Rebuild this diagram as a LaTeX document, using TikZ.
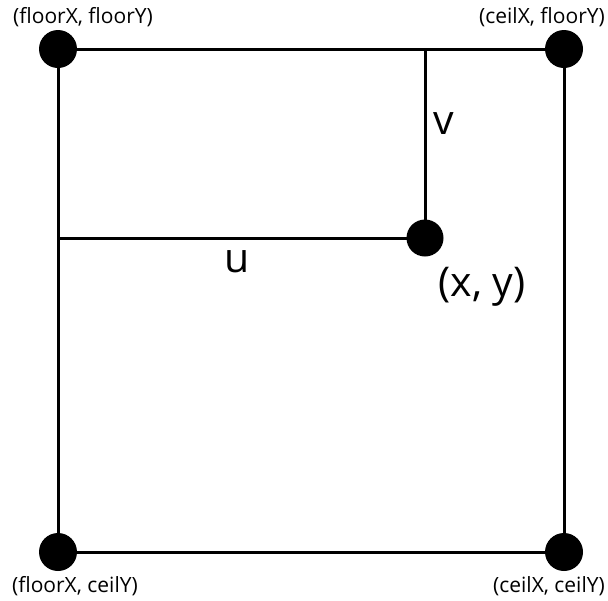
\documentclass[tikz,border=0pt]{standalone}
\usepackage{fontspec}
\setmainfont{Open Sans}
\begin{document}
\begin{tikzpicture}[x=1pt,y=-1pt,
  dot/.style={circle,fill=black,inner sep=0pt,minimum size=38pt},
  edge/.style={line width=3pt},
  small/.style={font=\fontsize{21}{24}\selectfont,inner sep=0pt},
  big/.style={font=\fontsize{41}{46}\selectfont,inner sep=0pt}]
\useasboundingbox (0,0) rectangle (608,600);
\coordinate (tl) at (58,49);
\coordinate (tr) at (564,49);
\coordinate (bl) at (58,552);
\coordinate (br) at (564,552);
\coordinate (p) at (425,238);
\coordinate (vt) at (425,49);
\coordinate (ul) at (58,238);
\draw[edge] (tl) -- (tr) -- (br) -- (bl) -- cycle;
\draw[edge] (vt) -- (p);
\draw[edge] (ul) -- (p);
\node[dot] (ntl) at (tl) {};
\node[dot] (ntr) at (tr) {};
\node[dot] (nbl) at (bl) {};
\node[dot] (nbr) at (br) {};
\node[dot,minimum size=37pt] (np) at (p) {};
\node[small] (ltl) at (83,17) {(floorX, floorY)};
\node[small] (ltr) at (542,17) {(ceilX, floorY)};
\node[small] (lbl) at (75,586) {(floorX, ceilY)};
\node[small] (lbr) at (549,586) {(ceilX, ceilY)};
\node[big] (lv) at (444,124) {v};
\node[big] (lu) at (237,262) {u};
\node[big] (lp) at (482,287) {(x, y)};
\end{tikzpicture}
\end{document}
